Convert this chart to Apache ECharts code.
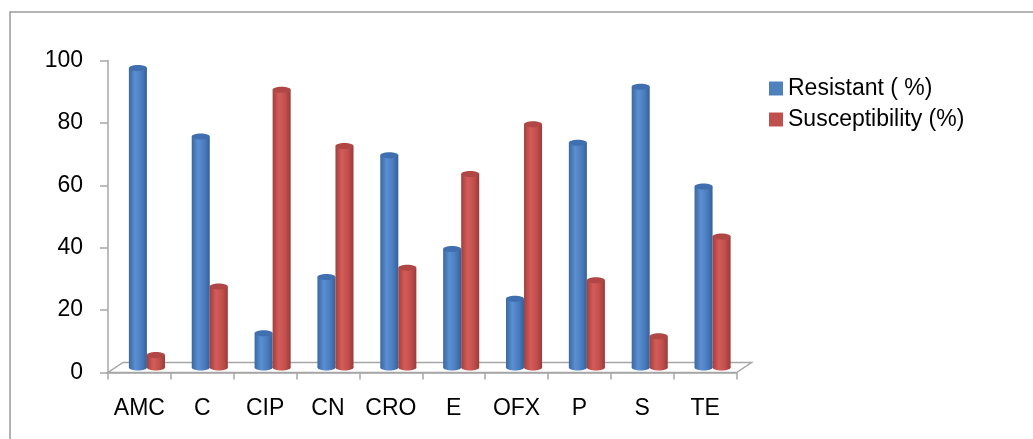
<!DOCTYPE html>
<html>
<head>
<meta charset="utf-8">
<script src="https://cdn.jsdelivr.net/npm/echarts@6/dist/echarts.min.js"></script>
<style>
  html, body { margin: 0; padding: 0; background: #ffffff; }
  #chart { width: 1033px; height: 439px; }
</style>
</head>
<body>
<div id="chart"></div>
<script>
// Antibiotic categories and percentages
const categories = ['AMC', 'C', 'CIP', 'CN', 'CRO', 'E', 'OFX', 'P', 'S', 'TE'];
const resistant = [96, 74, 11, 29, 68, 38, 22, 72, 90, 58];
const susceptibility = [4, 26, 89, 71, 32, 62, 78, 28, 10, 42];
const yTicks = [0, 20, 40, 60, 80, 100];

// Pseudo-3D floor depth (pixels) and cylinder shape
const DEPTH_X = 15;
const DEPTH_Y = 10;
const BAR_FRACTION = 0.287;
const ELLIPSE_RY = 3;

const FONT = '"Liberation Sans", Arial, sans-serif';

function cylinderRenderer(side, stops, topColor) {
  return function (params, api) {
    const idx = api.value(0);
    const v = api.value(1);
    const base = api.coord([idx, 0]);
    const top = api.coord([idx, v]);
    const band = api.size([1, 0])[0];
    const w = band * BAR_FRACTION;
    const cx = base[0] + DEPTH_X / 2 + side * w / 2;
    const baseY = base[1] - DEPTH_Y / 2;
    const topY = top[1] - DEPTH_Y / 2;
    const grad = new echarts.graphic.LinearGradient(0, 0, 1, 0, stops);
    return {
      type: 'group',
      children: [
        { type: 'ellipse', shape: { cx: cx, cy: baseY, rx: w / 2, ry: ELLIPSE_RY }, style: { fill: grad } },
        { type: 'rect', shape: { x: cx - w / 2, y: topY, width: w, height: baseY - topY }, style: { fill: grad } },
        { type: 'ellipse', shape: { cx: cx, cy: topY, rx: w / 2, ry: ELLIPSE_RY }, style: { fill: topColor } }
      ]
    };
  };
}

function floorRenderer(params, api) {
  const band = api.size([1, 0])[0];
  const first = api.coord([0, 0]);
  const last = api.coord([categories.length - 1, 0]);
  const x0 = first[0] - band / 2;
  const x1 = last[0] + band / 2;
  const y0 = first[1];
  return {
    type: 'polygon',
    shape: { points: [[x0, y0], [x1, y0], [x1 + DEPTH_X, y0 - DEPTH_Y], [x0 + DEPTH_X, y0 - DEPTH_Y]] },
    style: { fill: '#ffffff', stroke: '#a6a6a6', lineWidth: 1.5 }
  };
}

const blueStops = [
  { offset: 0, color: '#3a679f' },
  { offset: 0.35, color: '#5a8fd2' },
  { offset: 0.7, color: '#4a7dbd' },
  { offset: 1, color: '#36609a' }
];
const redStops = [
  { offset: 0, color: '#a23f3c' },
  { offset: 0.35, color: '#d35c59' },
  { offset: 0.7, color: '#c24f4c' },
  { offset: 1, color: '#983b39' }
];

const chart = echarts.init(document.getElementById('chart'), null, { renderer: 'canvas' });

chart.setOption({
  backgroundColor: '#ffffff',
  animation: false,
  textStyle: { fontFamily: FONT },
  graphic: [
    {
      type: 'rect',
      shape: { x: 10, y: 12, width: 1060, height: 460 },
      style: { fill: 'none', stroke: '#9a9a9a', lineWidth: 1.5 },
      silent: true
    }
  ],
  legend: {
    orient: 'vertical',
    left: 764,
    top: 72,
    itemWidth: 14,
    itemHeight: 14,
    itemGap: 8,
    icon: 'rect',
    textStyle: { fontFamily: FONT, fontSize: 23, color: '#000000', lineHeight: 23 },
    data: ['Resistant ( %)', 'Susceptibility (%)']
  },
  grid: { left: 108, right: 296.5, top: 60.5, bottom: 66.5 },
  xAxis: {
    type: 'category',
    data: categories,
    boundaryGap: true,
    axisLine: { lineStyle: { color: '#a6a6a6', width: 1.5 } },
    axisTick: { show: true, interval: 0, length: 7, lineStyle: { color: '#a6a6a6', width: 1.5 } },
    axisLabel: { interval: 0, fontSize: 23, color: '#000000', margin: 25, fontFamily: FONT },
    splitLine: { show: false }
  },
  yAxis: {
    type: 'value',
    min: yTicks[0],
    max: yTicks[yTicks.length - 1],
    interval: 20,
    axisLine: { show: true, lineStyle: { color: '#a6a6a6', width: 1.5 } },
    axisTick: { show: true, length: 8, lineStyle: { color: '#a6a6a6', width: 1.5 } },
    axisLabel: { fontSize: 23, color: '#000000', margin: 25, fontFamily: FONT, padding: [5, 0, 0, 0] },
    splitLine: { show: false }
  },
  series: [
    {
      name: 'floor',
      type: 'custom',
      z: 1,
      silent: true,
      data: [[0, 0]],
      renderItem: floorRenderer
    },
    {
      name: 'Resistant ( %)',
      type: 'custom',
      z: 3,
      itemStyle: { color: '#4f81bd' },
      data: resistant.map((v, i) => [i, v]),
      encode: { x: 0, y: 1 },
      renderItem: cylinderRenderer(-1, blueStops, '#3f6fae')
    },
    {
      name: 'Susceptibility (%)',
      type: 'custom',
      z: 3,
      itemStyle: { color: '#c0504d' },
      data: susceptibility.map((v, i) => [i, v]),
      encode: { x: 0, y: 1 },
      renderItem: cylinderRenderer(1, redStops, '#b04744')
    }
  ]
});
</script>
</body>
</html>
